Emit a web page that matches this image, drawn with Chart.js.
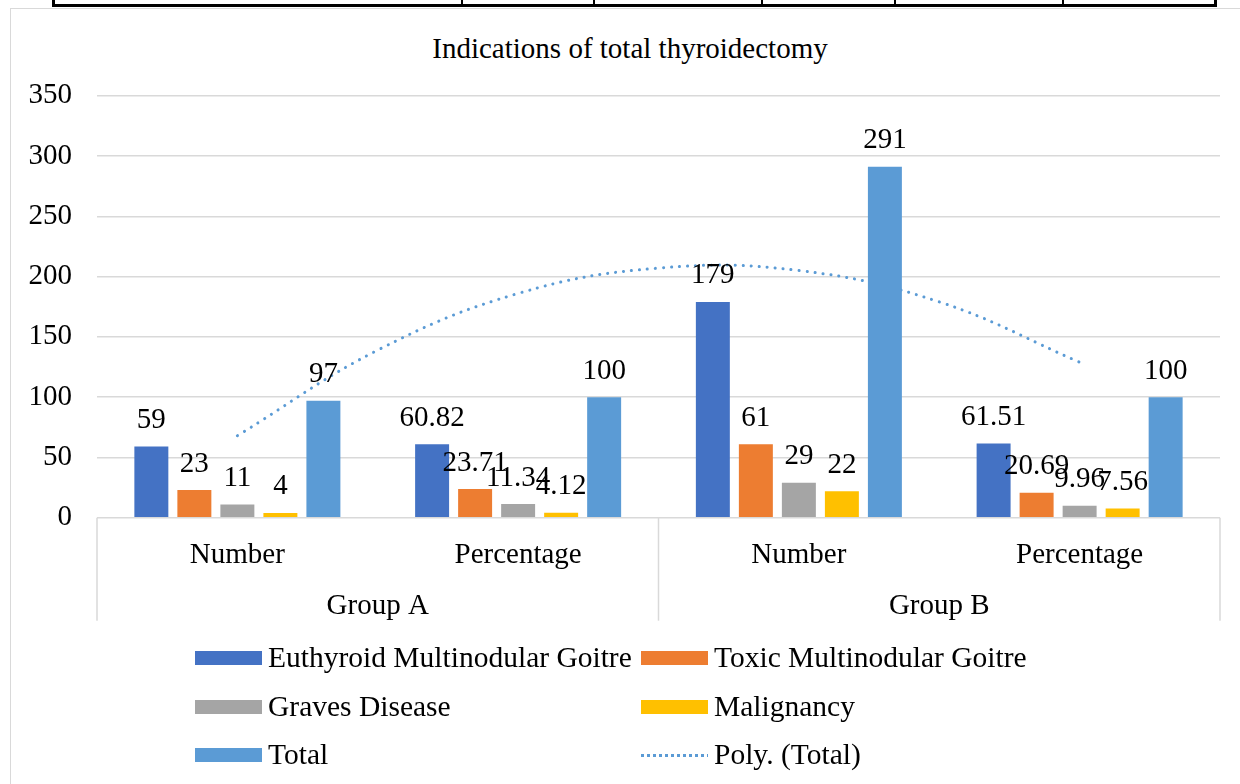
<!DOCTYPE html>
<html>
<head>
<meta charset="utf-8">
<script src="https://cdn.jsdelivr.net/npm/chart.js@4.4.0/dist/chart.umd.min.js"></script>
<style>
  html, body { margin: 0; padding: 0; background: #fff; }
  body { width: 1240px; height: 784px; position: relative; overflow: hidden;
         font-family: "Liberation Serif", "Times New Roman", serif; color: #000; }
  .tl { position: absolute; background: #000; }
  #frame { position: absolute; left: 10px; top: 8px; width: 1300px; height: 900px;
           border: 1.5px solid #d9d9d9; box-sizing: border-box; }
  #title { position: absolute; left: 10px; width: 1240px; top: 30px; text-align: center;
           font-size: 29px; line-height: 36px; }
  #chart { position: absolute; left: 0; top: 0; }
  .leg { position: absolute; font-size: 29.5px; line-height: 30px; white-space: nowrap; }
  .sw { position: absolute; width: 67px; height: 14px; }
</style>
</head>
<body>
<!-- bit of the table above the chart -->
<div class="tl" style="left:52px;top:4px;width:1165px;height:3px"></div>
<div class="tl" style="left:52px;top:0;width:3px;height:7px"></div>
<div class="tl" style="left:1214px;top:0;width:3px;height:7px"></div>
<div class="tl" style="left:461px;top:0;width:1.5px;height:5px"></div>
<div class="tl" style="left:593px;top:0;width:1.5px;height:5px"></div>
<div class="tl" style="left:761px;top:0;width:1.5px;height:5px"></div>
<div class="tl" style="left:894px;top:0;width:1.5px;height:5px"></div>
<div class="tl" style="left:1062px;top:0;width:1.5px;height:5px"></div>

<div id="frame"></div>
<div id="title">Indications of total thyroidectomy</div>
<canvas id="chart" width="1240" height="784"></canvas>
<div id="legend"></div>

<script>
const CATEGORIES = ["Number", "Percentage", "Number", "Percentage"];
const GROUPS = ["Group A", "Group B"];
const GROUP_SIZE = 2;

const SERIES_NAMES = ["Euthyroid Multinodular Goitre", "Toxic Multinodular Goitre", "Graves Disease", "Malignancy", "Total"];
const SERIES_COLORS = ["#4472C4", "#ED7D31", "#A5A5A5", "#FFC000", "#5B9BD5"];

const euthyroid = [59, 60.82, 179, 61.51];
const toxic = [23, 23.71, 61, 20.69];
const graves = [11, 11.34, 29, 9.96];
const malignancy = [4, 4.12, 22, 7.56];
const total = [97, 100, 291, 100];

// Poly. (Total) trendline; x is the category index (0..3)
const TREND_NAME = "Poly. (Total)";
const trendX = [0, 0.5, 1, 1.5, 2, 2.5, 3];
const trendY = [68, 139, 186, 207, 205, 179, 129];

const Y_TICKS = [0, 50, 100, 150, 200, 250, 300, 350];

const FONT = '"Liberation Serif", "Times New Roman", serif';

const seriesData = [euthyroid, toxic, graves, malignancy, total];

const barLabels = {
  id: "barLabels",
  afterDatasetsDraw(chart) {
    const ctx = chart.ctx;
    ctx.save();
    ctx.font = "29px " + FONT;
    ctx.fillStyle = "#000";
    ctx.textAlign = "center";
    ctx.textBaseline = "middle";
    chart.data.datasets.forEach((ds, i) => {
      if (ds.type === "line") return;
      chart.getDatasetMeta(i).data.forEach((bar, j) => {
        ctx.fillText(String(ds.data[j]), bar.x, bar.y - 26);
      });
    });
    ctx.restore();
  },
};

const groupAxis = {
  id: "groupAxis",
  afterDraw(chart) {
    const x = chart.scales.x;
    const top = chart.chartArea.bottom;
    const ctx = chart.ctx;
    ctx.save();
    ctx.strokeStyle = "#d9d9d9";
    ctx.lineWidth = 1.5;
    const edges = [x.left];
    for (let g = 1; g < GROUPS.length; g++) edges.push(x.getPixelForValue(g * GROUP_SIZE - 0.5));
    edges.push(x.right);
    edges.forEach((px) => {
      ctx.beginPath();
      ctx.moveTo(px, top);
      ctx.lineTo(px, top + 103);
      ctx.stroke();
    });
    ctx.font = "29px " + FONT;
    ctx.fillStyle = "#000";
    ctx.textAlign = "center";
    ctx.textBaseline = "middle";
    GROUPS.forEach((name, g) => {
      const a = x.getPixelForValue(g * GROUP_SIZE);
      const b = x.getPixelForValue(g * GROUP_SIZE + GROUP_SIZE - 1);
      ctx.fillText(name, (a + b) / 2, top + 89);
    });
    ctx.restore();
  },
};

const datasets = SERIES_NAMES.map((name, i) => ({
  type: "bar",
  label: name,
  data: seriesData[i],
  backgroundColor: SERIES_COLORS[i],
  order: 0,
}));
datasets.push({
  type: "line",
  label: TREND_NAME,
  parsing: false,
  data: trendX.map((v, i) => ({ x: v, y: trendY[i] })),
  borderColor: "#5B9BD5",
  borderWidth: 3,
  borderDash: [0.1, 7.9],
  borderCapStyle: "round",
  tension: 0.4,
  pointRadius: 0,
  fill: false,
  order: 1,
});

new Chart(document.getElementById("chart"), {
  type: "bar",
  data: { labels: CATEGORIES, datasets },
  plugins: [barLabels, groupAxis],
  options: {
    responsive: false,
    devicePixelRatio: 1,
    animation: false,
    categoryPercentage: 0.766,
    barPercentage: 0.79,
    layout: { padding: { top: 95.7, right: 20, left: 0, bottom: 0 } },
    plugins: { legend: { display: false }, title: { display: false }, tooltip: { enabled: false } },
    scales: {
      x: {
        type: "category",
        grid: { display: false, drawTicks: false },
        border: { display: false },
        ticks: { color: "#000", font: { family: FONT, size: 29 }, padding: 20, maxRotation: 0 },
        afterFit(s) { s.height = 266.3; },
      },
      y: {
        min: 0,
        max: 350,
        afterBuildTicks(s) { s.ticks = Y_TICKS.map((v) => ({ value: v })); },
        grid: { color: "#d9d9d9", lineWidth: 1.5, drawTicks: false },
        border: { display: false },
        ticks: { color: "#000", font: { family: FONT, size: 29 }, padding: 25 },
        afterFit(s) { s.width = 97; },
      },
    },
  },
});

// legend, two columns
const legendItems = SERIES_NAMES.map((n, i) => ({ name: n, color: SERIES_COLORS[i] }));
legendItems.push({ name: TREND_NAME, color: "#5B9BD5", dotted: true });
const legend = document.getElementById("legend");
const colX = [195, 641];
const rowY = [658, 707, 755];
legendItems.forEach((it, k) => {
  const cx = colX[k % 2];
  const cy = rowY[Math.floor(k / 2)];
  const sw = document.createElement("div");
  sw.className = "sw";
  sw.style.left = cx + "px";
  if (it.dotted) {
    sw.style.top = (cy - 1.5) + "px";
    sw.style.height = "3px";
    sw.style.background = "repeating-linear-gradient(90deg," + it.color + " 0 3px, transparent 3px 6px)";
  } else {
    sw.style.top = (cy - 7) + "px";
    sw.style.background = it.color;
  }
  legend.appendChild(sw);
  const t = document.createElement("div");
  t.className = "leg";
  t.style.left = (cx + 73) + "px";
  t.style.top = (cy - 16) + "px";
  t.textContent = it.name;
  legend.appendChild(t);
});
</script>
</body>
</html>
